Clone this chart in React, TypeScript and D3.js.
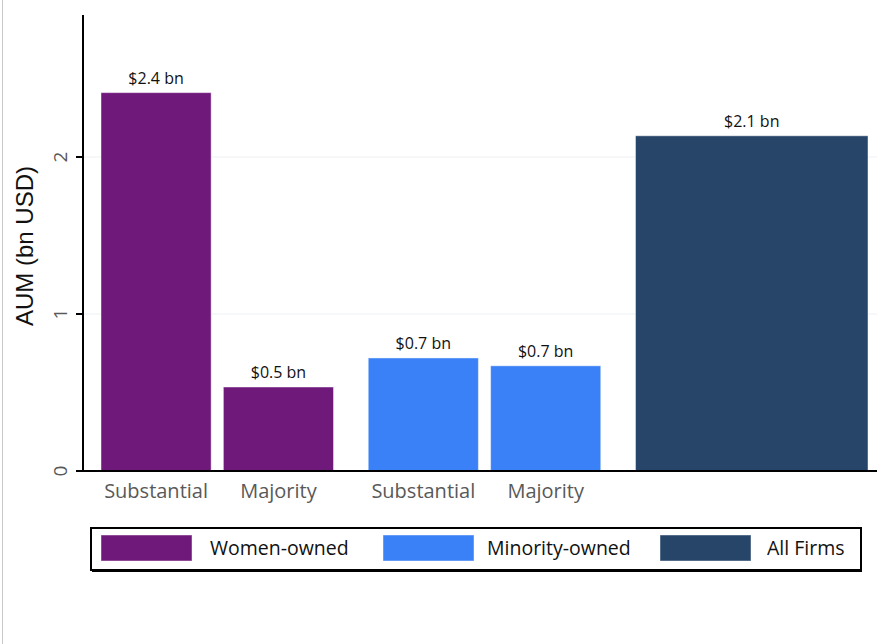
import React from "react";
import * as d3 from "d3";

const groups = ["Women-owned", "Minority-owned", "All Firms"];
const categories = ["Substantial", "Majority", "Substantial", "Majority", "All Firms"];
const categoryGroup = ["Women-owned", "Women-owned", "Minority-owned", "Minority-owned", "All Firms"];
const values = [2.41, 0.535, 0.72, 0.67, 2.135];
const valueLabels = ["$2.4 bn", "$0.5 bn", "$0.7 bn", "$0.7 bn", "$2.1 bn"];
const showTickLabel = [true, true, true, true, false];
const yTicks = [0, 1, 2];
const colors = ["#6F1A7B", "#3A80F6", "#264568"];

const W = 877;
const H = 644;

export default function App() {
  const y = d3.scaleLinear().domain([0, 1]).range([471, 314]);
  const outer = d3.scaleBand<string>().domain(groups).range([101, 868]).paddingInner(0.13);
  const color = d3.scaleOrdinal<string, string>().domain(groups).range(colors);

  const bars = categories.map((c, i) => {
    const g = categoryGroup[i];
    const members = categories.map((_, j) => j).filter((j) => categoryGroup[j] === g);
    const inner = d3
      .scaleBand<string>()
      .domain(members.map(String))
      .range([0, outer.bandwidth()])
      .paddingInner(members.length > 1 ? 0.1 : 0);
    const x0 = (outer(g) as number) + (inner(String(i)) as number);
    return { c, g, i, x0, w: inner.bandwidth(), v: values[i] };
  });

  const axisX = 83;
  const axisTop = 15;
  const font = "'Open Sans', 'Noto Sans', sans-serif";

  const legendX = [101, 383, 660];
  const legendTextX = [210, 487, 767];

  return (
    <svg width={W} height={H} style={{ position: "absolute", left: 0, top: 0, background: "#fff" }}>
      <line x1={2.5} x2={2.5} y1={0} y2={H} stroke="#c8c8c8" strokeWidth={1} />
      {yTicks.filter((t) => t > 0).map((t) => (
        <line key={"g" + t} x1={axisX} x2={W} y1={y(t)} y2={y(t)} stroke="#eef0f3" strokeWidth={1} />
      ))}
      {bars.map((b) => (
        <g key={b.i}>
          <rect
            x={b.x0}
            y={y(b.v)}
            width={b.w}
            height={y(0) - y(b.v)}
            fill={color(b.g)}
            stroke="rgba(255,255,255,0.45)"
            strokeWidth={1}
          />
          <text
            x={b.x0 + b.w / 2}
            y={y(b.v) - 9}
            textAnchor="middle"
            fontFamily={font}
            fontSize={16}
            fill="#111"
          >
            {valueLabels[b.i]}
          </text>
          {showTickLabel[b.i] && (
            <text
              x={b.x0 + b.w / 2}
              y={498}
              textAnchor="middle"
              fontFamily={font}
              fontSize={20}
              fill="#595959"
            >
              {b.c}
            </text>
          )}
        </g>
      ))}
      <line x1={axisX} x2={axisX} y1={axisTop} y2={y(0) + 1} stroke="#000" strokeWidth={2} />
      <line x1={axisX - 1} x2={W} y1={y(0)} y2={y(0)} stroke="#000" strokeWidth={2} />
      {yTicks.map((t) => (
        <g key={"t" + t}>
          <line x1={76} x2={axisX} y1={y(t)} y2={y(t)} stroke="#000" strokeWidth={2} />
          <text
            transform={`translate(67,${y(t)}) rotate(-90)`}
            textAnchor="middle"
            fontFamily={font}
            fontSize={19}
            fill="#595959"
          >
            {t}
          </text>
        </g>
      ))}
      <text
        transform={`translate(33,246) rotate(-90)`}
        textAnchor="middle"
        fontFamily="'Liberation Sans', Arial, sans-serif"
        fontSize={24}
        fill="#111"
      >
        AUM (bn USD)
      </text>
      <rect x={91} y={528} width={770} height={42} fill="#fff" stroke="#000" strokeWidth={2} />
      <line x1={92} x2={862} y1={571} y2={571} stroke="#000" strokeWidth={2} />
      {groups.map((g, i) => (
        <g key={"l" + g}>
          <rect x={legendX[i]} y={535} width={91} height={26} fill={color(g)} stroke="rgba(255,255,255,0.45)" />
          <text x={legendTextX[i]} y={555} fontFamily={font} fontSize={19.5} fill="#111">
            {g}
          </text>
        </g>
      ))}
    </svg>
  );
}
